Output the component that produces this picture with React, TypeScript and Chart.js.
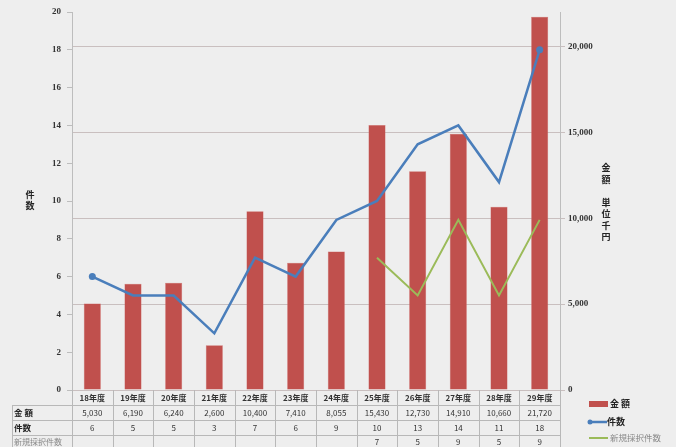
import React, { useEffect, useRef } from 'react';
import { Chart, registerables } from 'chart.js';

Chart.register(...registerables);

const categories = ['18年度', '19年度', '20年度', '21年度', '22年度', '23年度', '24年度', '25年度', '26年度', '27年度', '28年度', '29年度'];
const amounts = [5030, 6190, 6240, 2600, 10400, 7410, 8055, 15430, 12730, 14910, 10660, 21720];
const counts = [6, 5, 5, 3, 7, 6, 9, 10, 13, 14, 11, 18];
const newCounts: (number | null)[] = [null, null, null, null, null, null, null, 7, 5, 9, 5, 9];
const rightTicks = [0, 5000, 10000, 15000, 20000];
const rowHeaders = ['金 額', '件数', '新規採択件数'];
const leftAxisTitle = ['件', '数'];
const rightAxisTitle = ['金', '額', '', '単', '位', '千', '円'];

const RED = '#c0504d';
const BLUE = '#4a7ebb';
const GREEN = '#9bbb59';
const LINE = '#b8b8b8';
const JP = '"Noto Sans CJK JP", sans-serif';

const fmt = (v: number | null) => (v === null ? '' : v.toLocaleString('en-US'));

const bgPlugin = {
  id: 'bg',
  beforeDraw(chart: any) {
    const { ctx, width, height } = chart;
    ctx.save();
    ctx.fillStyle = '#eeeeee';
    ctx.fillRect(0, 0, width, height);
    ctx.restore();
  },
};

const tablePlugin = {
  id: 'table',
  afterDraw(chart: any) {
    const { ctx, chartArea } = chart;
    const xs = chart.scales.x;
    const n = categories.length;
    const w = (chartArea.right - chartArea.left) / n;
    const top = chartArea.bottom;
    const rowLines = [405, 420, 435];
    const yEnd = 447;
    const headerLeft = 12;
    ctx.save();
    ctx.strokeStyle = LINE;
    ctx.lineWidth = 1;
    ctx.beginPath();
    for (let i = 0; i <= n; i++) {
      const X = Math.round(chartArea.left + i * w) + 0.5;
      ctx.moveTo(X, top);
      ctx.lineTo(X, yEnd);
    }
    ctx.moveTo(headerLeft + 0.5, rowLines[0]);
    ctx.lineTo(headerLeft + 0.5, yEnd);
    rowLines.forEach((y) => {
      ctx.moveTo(headerLeft, y + 0.5);
      ctx.lineTo(chartArea.right, y + 0.5);
    });
    ctx.stroke();

    ctx.textAlign = 'center';
    ctx.textBaseline = 'middle';
    ctx.fillStyle = '#333';
    ctx.font = `bold 8px ${JP}`;
    categories.forEach((c, i) => {
      ctx.fillText(c, xs.getPixelForValue(i), 397.5);
    });
    const rows = [amounts.map(fmt), counts.map(fmt), newCounts.map(fmt)];
    const rowY = [413, 428, 442];
    ctx.font = `8px ${JP}`;
    rows.forEach((r, ri) => {
      r.forEach((t, i) => {
        ctx.fillText(t, xs.getPixelForValue(i), rowY[ri]);
      });
    });
    ctx.textAlign = 'left';
    rowHeaders.forEach((h, ri) => {
      ctx.font = ri < 2 ? `bold 8.5px ${JP}` : `8px ${JP}`;
      ctx.fillStyle = ri < 2 ? '#222' : '#888';
      ctx.fillText(h, 14, rowY[ri]);
    });

    // axis titles
    ctx.textAlign = 'center';
    ctx.fillStyle = '#222';
    ctx.font = `bold 9px ${JP}`;
    leftAxisTitle.forEach((c, i) => ctx.fillText(c, 30, 195 + i * 11));
    rightAxisTitle.forEach((c, i) => {
      if (c) ctx.fillText(c, 606, 168 + i * 11.5);
    });

    // legend
    ctx.fillStyle = RED;
    ctx.fillRect(589, 401, 19, 6);
    ctx.strokeStyle = BLUE;
    ctx.lineWidth = 2.5;
    ctx.beginPath();
    ctx.moveTo(589, 422);
    ctx.lineTo(607, 422);
    ctx.stroke();
    ctx.fillStyle = BLUE;
    ctx.beginPath();
    ctx.arc(590, 422, 2.5, 0, Math.PI * 2);
    ctx.fill();
    ctx.strokeStyle = GREEN;
    ctx.lineWidth = 2;
    ctx.beginPath();
    ctx.moveTo(589, 438);
    ctx.lineTo(608, 438);
    ctx.stroke();
    ctx.textAlign = 'left';
    ctx.font = `bold 9px ${JP}`;
    ctx.fillStyle = '#222';
    ctx.fillText('金 額', 610, 404);
    ctx.fillText('件数', 607, 422);
    ctx.font = `8.5px ${JP}`;
    ctx.fillStyle = '#888';
    ctx.fillText('新規採択件数', 610, 438);
    ctx.restore();
  },
};

export default function App() {
  const ref = useRef<HTMLCanvasElement | null>(null);
  useEffect(() => {
    document.body.style.margin = '0';
    document.body.style.background = '#eeeeee';
    const canvas = ref.current!;
    const last = counts.length - 1;
    const chart = new Chart(canvas, {
      type: 'bar',
      data: {
        labels: categories,
        datasets: [
          {
            type: 'line',
            label: '件数',
            data: counts,
            yAxisID: 'yL',
            borderColor: BLUE,
            backgroundColor: BLUE,
            borderWidth: 2.5,
            pointRadius: counts.map((_, i) => (i === 0 || i === last ? 3.5 : 0)),
            pointBackgroundColor: BLUE,
            pointBorderWidth: 0,
            tension: 0,
            order: 1,
          } as any,
          {
            type: 'line',
            label: '新規採択件数',
            data: newCounts,
            yAxisID: 'yL',
            borderColor: GREEN,
            backgroundColor: GREEN,
            borderWidth: 2,
            pointRadius: 0,
            tension: 0,
            spanGaps: false,
            order: 1,
          } as any,
          {
            type: 'bar',
            label: '金 額',
            data: amounts,
            yAxisID: 'yR',
            backgroundColor: RED,
            borderColor: '#d06a67',
            borderWidth: 0.5,
            barPercentage: 0.42,
            categoryPercentage: 1,
            order: 2,
          } as any,
        ],
      },
      options: {
        responsive: false,
        animation: false,
        layout: { padding: { top: 12, bottom: 0, left: 0, right: 0 } },
        plugins: { legend: { display: false }, tooltip: { enabled: false } },
        scales: {
          x: {
            grid: { display: false, drawTicks: false },
            border: { display: false },
            ticks: { display: false },
            afterFit(s: any) {
              s.height = 57;
              s.paddingLeft = 0;
              s.paddingRight = 0;
            },
          },
          yL: {
            position: 'left',
            min: 0,
            max: 20,
            ticks: {
              stepSize: 2,
              color: '#333',
              padding: 6,
              font: { family: '"Liberation Serif", serif', size: 9, weight: 'bold' },
            },
            grid: { drawOnChartArea: false, drawTicks: true, tickLength: 5, color: '#bdbdbd' },
            border: { color: '#bdbdbd' },
            afterFit(s: any) {
              s.width = 72;
              s.paddingTop = 0;
              s.paddingBottom = 0;
            },
          },
          yR: {
            position: 'right',
            min: 0,
            max: 22000,
            afterBuildTicks(s: any) {
              s.ticks = rightTicks.map((v) => ({ value: v }));
            },
            ticks: {
              autoSkip: false,
              color: '#333',
              padding: 3,
              font: { family: '"Liberation Serif", serif', size: 9, weight: 'bold' },
              callback: (v: any) => Number(v).toLocaleString('en-US'),
            },
            grid: { drawOnChartArea: true, drawTicks: true, tickLength: 5, color: '#c9bfbf' },
            border: { color: '#bdbdbd' },
            afterFit(s: any) {
              s.width = 116;
              s.paddingTop = 0;
              s.paddingBottom = 0;
            },
          },
        },
      } as any,
      plugins: [bgPlugin, tablePlugin],
    });
    return () => chart.destroy();
  }, []);
  return <canvas ref={ref} width={676} height={447} style={{ display: 'block' }} />;
}
